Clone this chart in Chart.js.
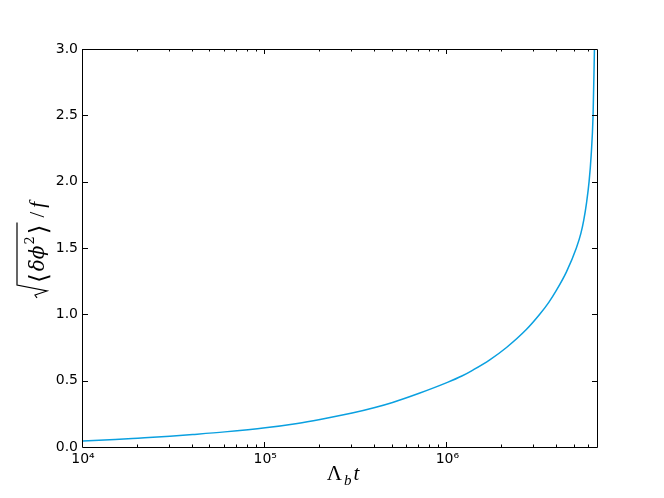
<!DOCTYPE html>
<html><head><meta charset="utf-8">
<script src="https://cdn.jsdelivr.net/npm/chart.js@4.4.1/dist/chart.umd.min.js"></script>
<style>html,body{margin:0;padding:0;background:#fff;}canvas{display:block;}</style>
</head><body>
<canvas id="c" width="664" height="498" style="width:664px;height:498px"></canvas>
<script>
// Data
const timeValues = [1e4, 1.5e4, 2e4, 3e4, 4e4, 6e4, 1e5, 1.5e5, 2e5, 3e5, 4e5, 5e5, 7e5, 1e6, 1.2e6, 1.38e6, 1.7e6, 2.11e6, 2.71e6, 3.21e6, 3.6e6, 3.96e6, 4.5e6, 5.1e6, 5.4e6, 5.6e6, 5.8e6, 5.99e6, 6.15e6, 6.3e6, 6.41e6];
const rmsValues  = [0.046, 0.056, 0.066, 0.081, 0.094, 0.114, 0.145, 0.178, 0.208, 0.256, 0.298, 0.336, 0.405, 0.487, 0.535, 0.58, 0.655, 0.75, 0.885, 1.0, 1.09, 1.18, 1.32, 1.5, 1.61, 1.71, 1.84, 2.0, 2.2, 2.5, 3.0];
const xTickValues = [1e4, 1e5, 1e6];
const xTickLabels = ['10⁴', '10⁵', '10⁶'];
const yTickValues = [0, 0.5, 1.0, 1.5, 2.0, 2.5, 3.0];
const yTickLabels = ['0.0', '0.5', '1.0', '1.5', '2.0', '2.5', '3.0'];
const xMin = 1e4, xMax = 6.62e6, yMin = 0, yMax = 3;

const framePlugin = {
  id: 'frame',
  beforeDraw(chart) {
    const c = chart.ctx;
    c.save(); c.fillStyle = '#fff'; c.fillRect(0, 0, chart.width, chart.height); c.restore();
  },
  afterDraw(chart) {
    const c = chart.ctx, a = chart.chartArea, x = chart.scales.x, y = chart.scales.y;
    c.save();
    c.strokeStyle = '#000'; c.lineWidth = 1;
    c.beginPath();
    for (let e = 4; e <= 6; e++) {
      for (let k = 1; k <= 9; k++) {
        const v = k * Math.pow(10, e);
        if (v < x.min || v > x.max) continue;
        const px = Math.round(x.getPixelForValue(v)) - 0.5;
        const L = k === 1 ? 5 : 2.5;
        c.moveTo(px, a.bottom); c.lineTo(px, a.bottom - L);
        c.moveTo(px, a.top); c.lineTo(px, a.top + L);
      }
    }
    yTickValues.forEach(v => {
      const py = Math.round(y.getPixelForValue(v)) + 0.5;
      c.moveTo(a.left, py); c.lineTo(a.left + 5, py);
      c.moveTo(a.right, py); c.lineTo(a.right - 5, py);
    });
    c.stroke();
    c.beginPath();
    c.rect(a.left - 0.5, a.top + 0.5, a.right - a.left + 1, a.bottom - a.top);
    c.stroke();

    // x axis title: Λ_b t
    c.fillStyle = '#000'; c.textAlign = 'left'; c.textBaseline = 'alphabetic';
    const fL = '21px "Liberation Serif"', fb = 'italic 15px "Liberation Serif"', ft = 'italic 21px "Liberation Serif"';
    c.font = fL; const wL = c.measureText('Λ').width;
    c.font = fb; const wb = c.measureText('b').width;
    c.font = ft; const wt = c.measureText('t').width;
    const gap = 2;
    const tot = wL + wb + wt + gap * 2;
    let sx = (a.left + a.right) / 2 + 3 - tot / 2;
    const base = 480;
    c.font = fL; c.fillText('Λ', sx, base); sx += wL + gap;
    c.font = fb; c.fillText('b', sx, base + 5); sx += wb + gap;
    c.font = ft; c.fillText('t', sx, base);

    // y axis title: sqrt(<δϕ²>) / f (rotated)
    c.save();
    c.translate(44, 245);
    c.rotate(-Math.PI / 2);
    const fBr = '25px "DejaVu Serif"', fG = 'italic 20px "DejaVu Serif"', fS = '13px "DejaVu Serif"', fF = 'italic 21px "Liberation Serif"', fSl = '21px "Liberation Serif"';
    const u0 = -53;
    let u = u0 + 15;
    c.font = fBr; c.fillText('⟨', u, 3); u += c.measureText('⟨').width + 2;
    c.font = fG; c.fillText('δϕ', u, 0); u += c.measureText('δϕ').width + 1;
    c.font = fS; c.fillText('2', u, -10); u += c.measureText('2').width + 2;
    c.font = fBr; c.fillText('⟩', u, 3); u += c.measureText('⟩').width + 1;
    const uEnd = u + 1;
    c.lineWidth = 1.2;
    c.beginPath();
    c.moveTo(u0, -7);
    c.lineTo(u0 + 3, -9);
    c.lineTo(u0 + 7, 3);
    c.lineTo(u0 + 13, -27);
    c.lineTo(uEnd, -27);
    c.stroke();
    u = uEnd + 5;
    c.font = fSl; c.fillText('/', u, 0); u += c.measureText('/').width + 4;
    c.font = fF; c.fillText('f', u, 0);
    c.restore();

    c.restore();
  }
};

new Chart(document.getElementById('c'), {
  type: 'line',
  data: {
    datasets: [{
      data: timeValues.map((t, i) => ({ x: t, y: rmsValues[i] })),
      borderColor: '#0aa0e0',
      borderWidth: 1.5,
      pointRadius: 0,
      fill: false,
      cubicInterpolationMode: 'monotone'
    }]
  },
  options: {
    responsive: false,
    animation: false,
    devicePixelRatio: 1,
    layout: { padding: { left: 0, right: 67, top: 49, bottom: 0 }, autoPadding: false },
    plugins: { legend: { display: false }, tooltip: { enabled: false } },
    scales: {
      x: {
        type: 'logarithmic', min: xMin, max: xMax,
        grid: { display: false, drawTicks: false }, border: { display: false },
        afterBuildTicks(s) { s.ticks = xTickValues.map(v => ({ value: v, major: true })); },
        afterFit(s) { s.height = 51; },
        ticks: {
          autoSkip: false, maxRotation: 0, minRotation: 0, padding: 4, color: '#000',
          font: { family: 'DejaVu Sans', size: 14 },
          callback(v, i) { return xTickLabels[i]; }
        }
      },
      y: {
        type: 'linear', min: yMin, max: yMax,
        grid: { display: false, drawTicks: false }, border: { display: false },
        afterBuildTicks(s) { s.ticks = yTickValues.map(v => ({ value: v })); },
        afterFit(s) { s.width = 83; },
        ticks: {
          padding: 5, color: '#000',
          font: { family: 'DejaVu Sans', size: 14 },
          callback(v, i) { return yTickLabels[i]; }
        }
      }
    }
  },
  plugins: [framePlugin]
});
</script>
</body></html>
